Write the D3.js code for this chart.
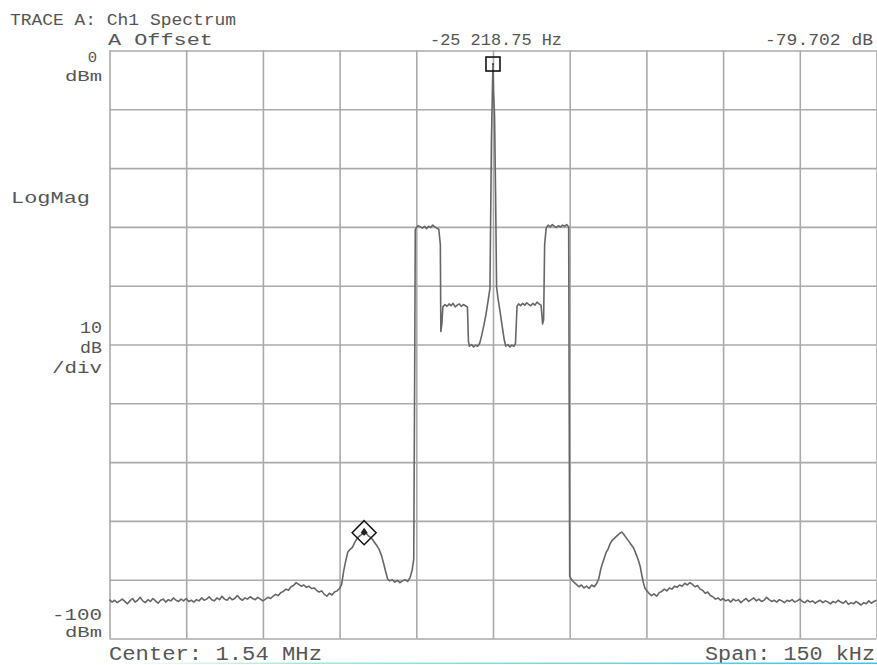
<!DOCTYPE html>
<html><head><meta charset="utf-8">
<script src="https://cdn.jsdelivr.net/npm/d3@7"></script>
<style>body{margin:0;background:#fff}svg{display:block}</style>
</head><body><svg id="c" width="877" height="665"></svg>
<script>
// ---- data (frequency offset from center in kHz, level in dBm) ----
const centerMHz = 1.54;
const spanKHz = 150;
const freqTicksKHz = [-75,-60,-45,-30,-15,0,15,30,45,60,75];
const levelTicksDbm = [-100,-90,-80,-70,-60,-50,-40,-30,-20,-10,0];

const leftFloor = [
[-75,-93.4],[-74.5,-93.8],[-74,-93.5],[-73.5,-93.9],[-73,-93.6],[-72.5,-93.3],[-72,-93.7],[-71.5,-94.1],
[-71,-93.6],[-70.5,-93.2],[-70,-93.8],[-69.5,-93.5],[-69,-93.0],[-68.5,-93.6],[-68,-93.9],[-67.5,-93.4],
[-67,-93.7],[-66.5,-93.2],[-66,-93.6],[-65.5,-94.0],[-65,-93.5],[-64.5,-93.3],[-64,-93.8],[-63.5,-93.4],
[-63,-93.6],[-62.5,-93.1],[-62,-93.5],[-61.5,-93.7],[-61,-93.3],[-60.5,-93.6],[-60,-93.2],[-59.5,-93.7],
[-59,-93.5],[-58.5,-93.8],[-58,-93.4],[-57.5,-93.6],[-57,-93.1],[-56.5,-93.5],[-56,-93.3],[-55.5,-92.9],
[-55,-93.4],[-54.5,-93.6],[-54,-93.1],[-53.5,-93.4],[-53,-92.8],[-52.5,-93.3],[-52,-93.5],[-51.5,-93.0],
[-51,-93.4],[-50.5,-93.2],[-50,-92.7],[-49.5,-93.2],[-49,-93.5],[-48.5,-93.1],[-48,-93.3],[-47.5,-92.9],
[-47,-93.2],[-46.5,-93.4],[-46,-93.0],[-45.5,-93.3],[-45,-93.6]
];
const leftShoulder = [
[-44.5,-93.3],[-44,-93.0],[-43.5,-93.2],[-43,-92.8],[-42.5,-92.5],[-42,-92.7],[-41.5,-92.2],[-41,-92.0],
[-40.5,-91.6],[-40,-91.8],[-39.5,-91.2],[-39,-91.0],[-38.5,-90.5],[-38,-90.8],[-37.5,-91.1],[-37,-90.9],
[-36.5,-91.3],[-36,-91.1],[-35.5,-91.5],[-35,-91.4],[-34.5,-91.8],[-34,-92.1],[-33.5,-91.9],[-33,-92.5],
[-32.5,-92.8],[-32,-92.3],[-31.5,-92.6],[-31,-92.1],[-30.5,-91.9],[-30,-91.5]
];
const leftLobe = [
[-29.6,-90.8],[-29.2,-88.5],[-28.8,-86.8],[-28.4,-85.3],[-28,-84.9],[-27.5,-84.5],[-27,-83.6],[-26.5,-82.9],
[-26,-82.5],[-25.5,-82.2],[-25.2,-82.0],[-24.8,-82.1],[-24.3,-82.6],[-23.8,-82.9],[-23.3,-83.5],[-22.8,-84.1],
[-22.3,-84.8],[-21.8,-85.9],[-21.4,-87.2],[-21,-88.6],[-20.6,-89.9],[-20.2,-90.2],[-19.7,-90.0],[-19.2,-90.4],
[-18.7,-90.1],[-18.2,-90.5],[-17.7,-90.2],[-17.2,-90.0],[-16.7,-90.3],[-16.2,-89.6],[-15.8,-88.3],[-15.5,-86.5]
];
const channel = [
[-15.3,-52],[-15.2,-30.5],[-15.0,-30.1],[-14.6,-29.8],[-14.2,-30.0],[-13.8,-30.2],[-13.4,-29.9],[-13.0,-30.3],
[-12.6,-29.9],[-12.2,-30.1],[-11.8,-29.7],[-11.4,-30.0],[-11.0,-30.2],[-10.6,-30.4],[-10.3,-33],[-10.2,-47.8],
[-10.0,-46.5],[-9.8,-43.6],[-9.4,-43.2],[-9.0,-43.5],[-8.6,-43.1],[-8.2,-43.4],[-7.8,-43.0],[-7.4,-43.6],
[-7.0,-43.3],[-6.6,-43.1],[-6.2,-43.5],[-5.8,-43.2],[-5.4,-43.4],[-5.0,-43.6],[-4.8,-49.5],[-4.6,-50.3],
[-4.2,-50.0],[-3.8,-50.4],[-3.4,-50.1],[-3.0,-50.3],[-2.6,-49.8],[-2.2,-48.4],[-1.8,-46.8],[-1.4,-45.0],
[-1.0,-42.8],[-0.6,-40.5],[-0.3,-15],[-0.1,-6],[0.0,-2.3],[0.1,-7],[0.3,-11],[0.5,-24],
[0.7,-40.2],[1.0,-42.3],[1.4,-44.5],[1.8,-46.9],[2.2,-49.2],[2.5,-50.3],[2.9,-50.0],[3.3,-50.4],
[3.7,-50.1],[4.1,-50.3],[4.4,-49.8],[4.7,-43.5],[5.0,-43.1],[5.4,-43.4],[5.8,-43.0],[6.2,-43.3],
[6.6,-42.9],[7.0,-43.2],[7.4,-43.4],[7.8,-43.0],[8.2,-43.3],[8.6,-42.8],[9.0,-43.1],[9.4,-43.3],
[9.7,-46.5],[9.9,-45.8],[10.1,-33],[10.4,-30.2],[10.8,-29.7],[11.2,-30.0],[11.6,-29.6],[12.0,-29.9],
[12.4,-30.1],[12.8,-29.8],[13.2,-30.0],[13.6,-29.7],[14.0,-29.9],[14.4,-29.6],[14.8,-30.0],[15.0,-89.4]
];
const rightLobe = [
[15.3,-89.9],[15.8,-90.4],[16.3,-90.8],[16.8,-91.2],[17.3,-90.9],[17.8,-91.4],[18.3,-91.1],[18.8,-91.5],
[19.3,-90.9],[19.8,-91.2],[20.3,-90.6],[20.7,-89.8],[21.0,-88.5],[21.3,-87.5],[21.7,-86.5],[22.1,-85.4],
[22.5,-84.8],[22.9,-83.9],[23.3,-83.3],[23.8,-82.9],[24.3,-82.5],[24.8,-82.1],[25.2,-81.9],[25.6,-82.3],
[26.0,-82.8],[26.5,-83.4],[27.0,-84.0],[27.5,-84.6],[28.0,-85.7],[28.4,-86.6],[28.8,-87.8],[29.1,-89.2],
[29.4,-90.5],[29.7,-91.4]
];
const rightShoulder = [
[30.1,-91.9],[30.5,-92.3],[31.0,-92.7],[31.5,-92.4],[32.0,-92.8],[32.5,-92.2],[33.0,-92.0],[33.5,-91.6],
[34.0,-91.9],[34.5,-91.4],[35.0,-91.6],[35.5,-91.1],[36.0,-91.3],[36.5,-90.9],[37.0,-91.1],[37.5,-90.6],
[38.0,-90.9],[38.5,-90.5],[39.0,-90.8],[39.5,-91.2],[40.0,-91.0],[40.5,-91.6],[41.0,-91.8],[41.5,-92.3],
[42.0,-92.1],[42.5,-92.7],[43.0,-92.9],[43.5,-93.3],[44.0,-93.1],[44.5,-93.5],[45.0,-93.2]
];
const rightFloor = [
[45.5,-93.6],[46,-93.4],[46.5,-93.8],[47,-93.3],[47.5,-93.6],[48,-93.4],[48.5,-93.9],[49,-93.5],
[49.5,-93.2],[50,-93.7],[50.5,-93.4],[51,-93.1],[51.5,-93.6],[52,-93.3],[52.5,-93.7],[53,-93.5],
[53.5,-93.0],[54,-93.4],[54.5,-93.7],[55,-93.5],[55.5,-93.8],[56,-93.4],[56.5,-93.6],[57,-93.9],
[57.5,-93.5],[58,-93.7],[58.5,-93.4],[59,-93.8],[59.5,-93.6],[60,-93.3],[60.5,-93.7],[61,-93.9],
[61.5,-93.5],[62,-93.8],[62.5,-93.6],[63,-94.0],[63.5,-93.7],[64,-93.5],[64.5,-93.9],[65,-93.6],
[65.5,-93.8],[66,-94.1],[66.5,-93.7],[67,-93.9],[67.5,-93.5],[68,-93.8],[68.5,-94.0],[69,-93.6],
[69.5,-94.2],[70,-93.9],[70.5,-94.1],[71,-93.7],[71.5,-94.0],[72,-94.3],[72.5,-93.9],[73,-94.1],
[73.5,-93.6],[74,-94.0],[74.5,-93.7],[75,-93.5]
];
const markerPoints = [
  {shape:"square", f:0.0, db:-2.3},
  {shape:"diamond", f:-25.2, db:-82.0}
];
const headerTitle = "TRACE A: Ch1 Spectrum";
const markerLabel = "A Offset";
const markerFreq = "-25 218.75 Hz";
const markerLevel = "-79.702 dB";
const topRefLabel = ["0","dBm"];
const formatLabel = "LogMag";
const scaleLabel = ["10","dB","/div"];
const bottomRefLabel = ["-100","dBm"];
const centerLabel = "Center: 1.54 MHz";
const spanLabel = "Span: 150 kHz";

// ---- drawing ----
const trace = [].concat(leftFloor, leftShoulder, leftLobe, channel, rightLobe, rightShoulder, rightFloor);
const svg = d3.select("#c");
const L = 109.5, R = 876.5, T = 50.5, B = 638.5;
const x = d3.scaleLinear().domain([-spanKHz/2, spanKHz/2]).range([L, R]);
const y = d3.scaleLinear().domain([-100, 0]).range([B, T]);
const gridColor = "#aaaaaa";
const textColor = "#555555";
const FONT = "'Liberation Mono', 'DejaVu Sans Mono', monospace";

// vertical grid
const gx = svg.append("g").attr("transform", `translate(0,${B})`)
  .call(d3.axisBottom(x).tickValues(freqTicksKHz).tickSize(-(B - T)).tickFormat(""));
gx.select(".domain").remove();
gx.selectAll(".tick line").attr("stroke", gridColor).attr("stroke-width", 1.6);
// horizontal grid
const gy = svg.append("g").attr("transform", `translate(${L},0)`)
  .call(d3.axisLeft(y).tickValues(levelTicksDbm).tickSize(-(R - L)).tickFormat(""));
gy.select(".domain").remove();
gy.selectAll(".tick line").attr("stroke", gridColor).attr("stroke-width", 1.6);

// trace
svg.append("path").datum(trace)
  .attr("fill", "none").attr("stroke", "#666").attr("stroke-width", 1.6)
  .attr("stroke-linejoin", "round")
  .attr("d", d3.line().x(d => x(d[0])).y(d => y(d[1])));

// markers
markerPoints.forEach(m => {
  const cx = x(m.f), cy = y(m.db);
  if (m.shape === "square") {
    svg.append("rect").attr("x", cx - 7).attr("y", cy - 7).attr("width", 14).attr("height", 14)
      .attr("fill", "none").attr("stroke", "#111").attr("stroke-width", 1.6);
    svg.append("rect").attr("x", cx - 0.8).attr("y", cy - 0.8).attr("width", 1.6).attr("height", 1.6).attr("fill", "#333");
  } else {
    const r = 12;
    svg.append("path").attr("d", `M${cx},${cy - r}L${cx + r},${cy}L${cx},${cy + r}L${cx - r},${cy}Z`)
      .attr("fill", "none").attr("stroke", "#111").attr("stroke-width", 1.5);
    svg.append("path").attr("d", `M${cx},${cy - 5}L${cx + 3.5},${cy}L${cx},${cy + 3}L${cx - 3.5},${cy}Z`)
      .attr("fill", "#222");
  }
});

// texts
function txt(s, xx, yy, size, anchor, len) {
  const t = svg.append("text").attr("x", xx).attr("y", yy).text(s)
    .attr("font-family", FONT).attr("font-size", size).attr("fill", textColor)
    .attr("text-anchor", anchor || "start");
  if (len) t.attr("textLength", len).attr("lengthAdjust", "spacingAndGlyphs");
  return t;
}
txt(headerTitle, 10, 25, 17, "start", 226);
txt(markerLabel, 108, 45, 17, "start", 105);
txt(markerFreq, 430, 45, 17, "start", 132);
txt(markerLevel, 765, 45, 17, "start", 108);
txt(topRefLabel[0], 97, 62, 15.5, "end");
txt(topRefLabel[1], 65, 81, 15.5, "start", 37);
txt(formatLabel, 11, 203, 16.5, "start", 79);
txt(scaleLabel[0], 80, 333, 16.5, "start", 22);
txt(scaleLabel[1], 80, 353, 16.5, "start", 22);
txt(scaleLabel[2], 52, 373, 16.5, "start", 50);
txt(bottomRefLabel[0], 52, 620, 17, "start", 50);
txt(bottomRefLabel[1], 65, 637, 15.5, "start", 37);
txt(centerLabel, 109, 660, 19.5, "start", 213);
txt(spanLabel, 705, 660, 19.5, "start", 170);

// bottom teal rule
const grad = svg.append("defs").append("linearGradient").attr("id", "teal")
  .attr("x1", "0%").attr("x2", "100%");
grad.append("stop").attr("offset", "0%").attr("stop-color", "#ffffff");
grad.append("stop").attr("offset", "25%").attr("stop-color", "#a8e6d8");
grad.append("stop").attr("offset", "100%").attr("stop-color", "#3cc6e0");
svg.append("rect").attr("x", 110).attr("y", 662.5).attr("width", 767).attr("height", 1.5).attr("fill", "url(#teal)");
</script></body></html>
